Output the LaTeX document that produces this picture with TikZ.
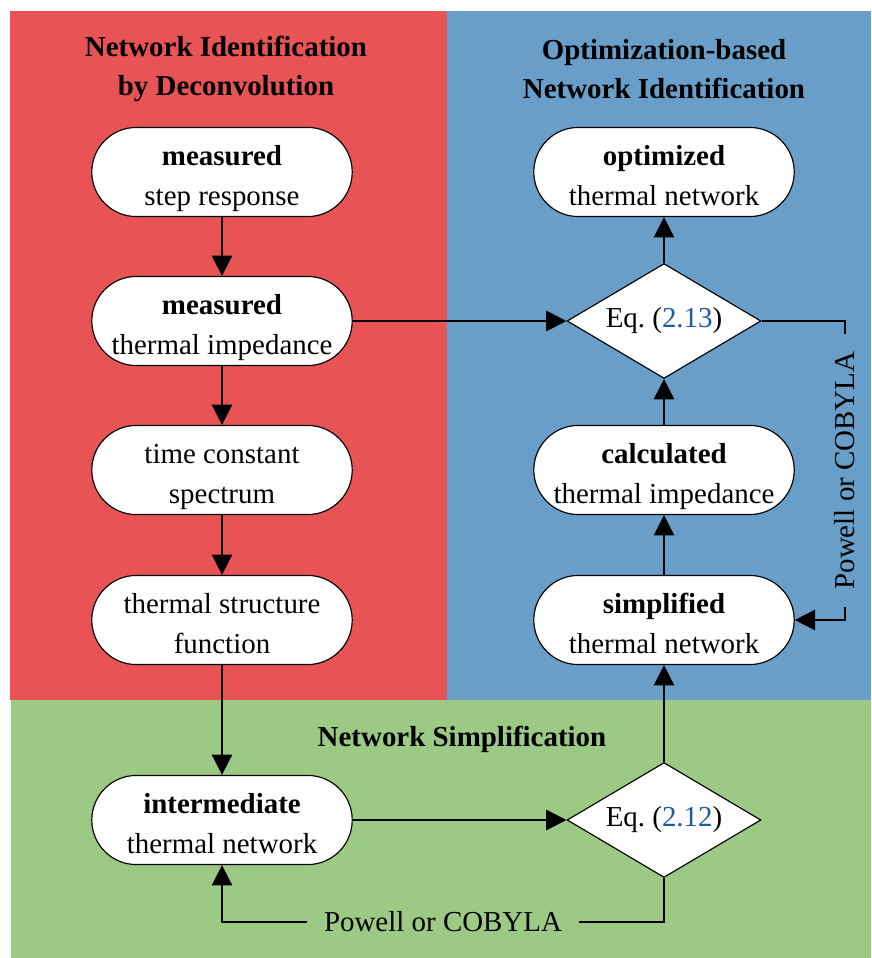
\documentclass[tikz,border=0pt]{standalone}
\usepackage{fontspec}
\setmainfont{Liberation Serif}
\usetikzlibrary{arrows.meta,shapes.geometric}

\definecolor{idred}{RGB}{232,84,85}
\definecolor{idblue}{RGB}{104,158,200}
\definecolor{idgreen}{RGB}{156,201,131}
\definecolor{refblue}{RGB}{30,90,165}

\tikzset{
  block/.style={draw, fill=white, rounded corners=15.4pt, minimum width=90pt,
    minimum height=30.8pt, inner sep=0pt, align=center,
    text height=23.2pt, text depth=0pt,
    font=\fontsize{10pt}{13.8pt}\selectfont},
  decision/.style={draw, fill=white, diamond, aspect=1.7, minimum width=67pt,
    minimum height=39.7pt, inner sep=0pt, font=\fontsize{10pt}{12pt}\selectfont},
  title/.style={align=center, font=\bfseries\fontsize{10pt}{13.6pt}\selectfont},
  flow/.style={-{Triangle[length=7pt,width=7pt]}, line width=0.6pt},
}

\begin{document}
\begin{tikzpicture}[x=0.3456pt, y=-0.3456pt]
  % Spalten und Rückführungen
  \def\xl{222}   % linke Spalte
  \def\xr{664}   % rechte Spalte
  \useasboundingbox (0,0) rectangle (871,958);

  % Hintergründe der drei Bereiche
  \fill[idred]   (10,11)  rectangle (447,700);
  \fill[idblue]  (447,11) rectangle (871,700);
  \fill[idgreen] (11,700) rectangle (871,958);

  % Überschriften
  \node[title] (tdeconv) at (226,69) {Network Identification\\by Deconvolution};
  \node[title] (topt)    at (\xr,69) {Optimization-based\\Network Identification};
  \node[title] (tsimp)   at (462,739) {Network Simplification};

  % linke Spalte
  \node[block] (step)   at (\xl,172) {\textbf{measured}\\step response};
  \node[block] (zmeas)  at (\xl,321) {\textbf{measured}\\thermal impedance};
  \node[block] (tau)    at (\xl,470) {time constant\\spectrum};
  \node[block] (struct) at (\xl,620) {thermal structure\\function};
  \node[block] (inter)  at (\xl,820) {\textbf{intermediate}\\thermal network};

  % rechte Spalte
  \node[block]    (opt)   at (\xr,172) {\textbf{optimized}\\thermal network};
  \node[decision] (eqopt) at (\xr,321) {Eq.~(\textcolor{refblue}{2.13})};
  \node[block]    (zcalc) at (\xr,470) {\textbf{calculated}\\thermal impedance};
  \node[block]    (simp)  at (\xr,620) {\textbf{simplified}\\thermal network};
  \node[decision] (eqsim) at (\xr,820) {Eq.~(\textcolor{refblue}{2.12})};

  % Eckpunkte der Rückführungen
  \coordinate (fbR) at (845,0);
  \coordinate (fbB) at (0,922);

  % Verbindungen
  \draw[flow] (step) -- (zmeas);
  \draw[flow] (zmeas) -- (tau);
  \draw[flow] (tau) -- (struct);
  \draw[flow] (struct) -- (inter);
  \draw[flow] (zmeas) -- (eqopt);
  \draw[flow] (inter) -- (eqsim);
  \draw[flow] (eqsim) -- (simp);
  \draw[flow] (simp) -- (zcalc);
  \draw[flow] (zcalc) -- (eqopt);
  \draw[flow] (eqopt) -- (opt);

  % Rückführungen über Powell bzw. COBYLA
  \draw[flow] (eqopt.east) -- (eqopt.east -| fbR)
    -- node[midway, rotate=90, fill=idblue, inner xsep=6pt, font=\fontsize{10pt}{12pt}\selectfont] {Powell or COBYLA}
    (simp.east -| fbR) -- (simp.east);
  \draw[flow] (eqsim.south) -- (eqsim.south |- fbB)
    -- node[midway, fill=idgreen, inner xsep=6pt, font=\fontsize{10pt}{12pt}\selectfont] {Powell or COBYLA}
    (inter.south |- fbB) -- (inter.south);
\end{tikzpicture}
\end{document}
